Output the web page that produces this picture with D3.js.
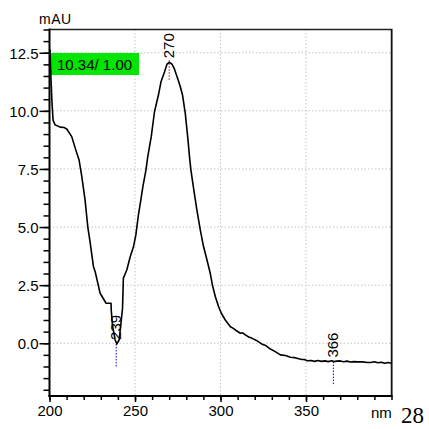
<!DOCTYPE html>
<html><head><meta charset="utf-8">
<script src="https://cdn.jsdelivr.net/npm/d3@7/dist/d3.min.js"></script>
<style>body{margin:0;background:#fff}svg{display:block}text{font-family:Arial,"Liberation Sans",sans-serif}text.serif{font-family:"Liberation Serif","Times New Roman",serif}</style>
</head><body><svg id="c" width="429" height="429"></svg>
<script>
// wavelength (nm)
const wavelengths = [200,200.3,200.9,201.5,202.1,203.2,206.2,208.5,210.1,213.0,215.4,217.3,218.9,220.8,222.4,223.7,225.7,226.7,229.6,233.1,236.0,236.1,236.8,238.4,239.4,240.7,241.7,242.7,243.2,245.2,247.2,249.1,250.5,252.0,253.4,254.6,256.4,257.4,259.5,261.4,263.7,265.2,267.3,268.7,270.2,271.6,272.9,274.9,276.5,277.8,279.4,281.0,281.9,282.7,284.7,286.2,288.2,290.1,292.1,294.0,295.4,297.0,298.9,300.5,302.8,305.8,307.5,308.7,311.6,313.0,314.5,316.5,318.5,321.0,324.3,326.5,329.2,332.0,335.0,338.0,340.9,343.5,345.8,347.5,349.0,350.7,353.0,355.0,357.0,359.0,361.0,363.0,365.0,366.3,368.0,370.0,372.0,374.0,376.0,378.0,380.0,383.0,386.0,387.8,390.0,392.0,394.0,396.0,398.0,400.0];
// absorbance (mAU)
const absorbance = [12.65,12.6,11.3,10.3,9.6,9.4,9.3,9.28,9.22,8.89,8.31,7.88,7.17,6.16,5.0,4.37,3.3,3.08,2.15,1.72,1.72,1.43,0.79,0.14,-0.03,0.14,0.79,1.5,2.8,3.15,3.72,4.15,4.66,5.52,6.16,6.74,7.45,8.0,8.89,9.96,10.68,11.25,11.68,12.01,12.09,12.01,11.83,11.4,11.04,10.68,9.89,8.74,8.0,7.45,6.45,5.73,4.87,4.15,3.58,3.01,2.46,2.0,1.57,1.29,1.0,0.71,0.64,0.57,0.43,0.45,0.36,0.27,0.21,0.12,-0.04,-0.1,-0.25,-0.36,-0.5,-0.53,-0.6,-0.62,-0.67,-0.70,-0.70,-0.75,-0.74,-0.78,-0.74,-0.78,-0.76,-0.79,-0.75,-0.79,-0.77,-0.76,-0.80,-0.77,-0.81,-0.79,-0.80,-0.80,-0.83,-0.83,-0.80,-0.84,-0.82,-0.86,-0.83,-0.86];
const xMajor = [200,250,300,350];
const yMajor = [0,2.5,5,7.5,10,12.5];
const peaks = [{nm:270,v:12.09,color:"#e00000",len:[-2,18],label:"270"},{nm:239,v:-0.03,color:"#0000e0",len:[0,24],label:"239"},{nm:366,v:-0.79,color:"#0000e0",len:[0,24],label:"366"}];
const boxLabel = "10.34/ 1.00";

const svg = d3.select("#c");
const L=49.5,R=391.5,T=29.5,B=396;
const x = d3.scaleLinear().domain([200,400]).range([L,R]);
const y = d3.scaleLinear().domain([-2.27,13.5]).range([B,T]);

// grid
const g = svg.append("g").attr("stroke","#c4c4c4").attr("stroke-width",1).attr("stroke-dasharray","1.5,2");
xMajor.filter(d=>d>200).forEach(d=>g.append("line").attr("x1",x(d)).attr("x2",x(d)).attr("y1",T).attr("y2",B));
yMajor.forEach(d=>g.append("line").attr("x1",L).attr("x2",R).attr("y1",y(d)).attr("y2",y(d)));

// frame top/right
svg.append("line").attr("x1",L).attr("x2",R+1).attr("y1",T).attr("y2",T).attr("stroke","#222").attr("stroke-width",1.5);
svg.append("line").attr("x1",R+1).attr("x2",R+1).attr("y1",T).attr("y2",B).attr("stroke","#999").attr("stroke-width",1);
svg.append("line").attr("x1",R).attr("x2",R).attr("y1",T).attr("y2",B).attr("stroke","#111").attr("stroke-width",1.5);

// axes
const yMinor = d3.range(-2,13.51,0.5);
const xMinor = d3.range(200,400.1,10);
svg.append("g").attr("transform",`translate(${L},0)`)
  .call(d3.axisLeft(y).tickValues(yMinor).tickSize(6).tickFormat("").tickSizeOuter(0))
  .call(a=>a.select(".domain").remove()).selectAll("line").attr("stroke","#000").attr("stroke-width",1.5);
svg.append("g").attr("transform",`translate(${L},0)`)
  .call(d3.axisLeft(y).tickValues(yMajor).tickSize(10).tickFormat(d3.format(".1f")).tickSizeOuter(0))
  .call(a=>a.select(".domain").remove())
  .call(a=>a.selectAll("line").attr("stroke","#000").attr("stroke-width",1.5))
  .call(a=>a.selectAll("text").attr("font-size",15).attr("fill","#000").attr("x",-11).attr("dy","0.36em"));
svg.append("g").attr("transform",`translate(0,${B})`)
  .call(d3.axisBottom(x).tickValues(xMinor).tickSize(4).tickFormat("").tickSizeOuter(0))
  .call(a=>a.select(".domain").remove()).selectAll("line").attr("stroke","#000").attr("stroke-width",1.5);
svg.append("g").attr("transform",`translate(0,${B})`)
  .call(d3.axisBottom(x).tickValues(xMajor).tickSize(6).tickFormat(d3.format("d")).tickSizeOuter(0))
  .call(a=>a.select(".domain").remove())
  .call(a=>a.selectAll("line").attr("stroke","#000").attr("stroke-width",1.5))
  .call(a=>a.selectAll("text").attr("font-size",15).attr("fill","#000").attr("y",9));
svg.selectAll(".tick text").style("font-family","Arial, 'Liberation Sans', sans-serif");
svg.append("line").attr("x1",L).attr("x2",L).attr("y1",T-1).attr("y2",B+1).attr("stroke","#000").attr("stroke-width",2);
svg.append("line").attr("x1",L-1).attr("x2",R+1).attr("y1",B).attr("y2",B).attr("stroke","#000").attr("stroke-width",2);

// texts
svg.append("text").attr("x",39).attr("y",24).attr("font-size",14).attr("letter-spacing",0.5).text("mAU");
svg.append("text").attr("x",371).attr("y",418).attr("font-size",15).text("nm");
svg.append("text").attr("class","serif").attr("x",401).attr("y",423).attr("font-size",23).text("28");

// green box
svg.append("rect").attr("x",51).attr("y",53).attr("width",88).attr("height",22).attr("fill","#00e600");
svg.append("text").attr("x",57).attr("y",70).attr("font-size",15).text(boxLabel);

// peak markers
peaks.forEach(p=>{
  svg.append("line").attr("x1",x(p.nm)).attr("x2",x(p.nm)).attr("y1",y(p.v)+p.len[0]).attr("y2",y(p.v)+p.len[1])
    .attr("stroke",p.color).attr("stroke-width",1).attr("stroke-dasharray","1.5,1.5");
});

// curve
const pts = wavelengths.map((w,i)=>[w,absorbance[i]]);
svg.append("path").datum(pts).attr("fill","none").attr("stroke","#000").attr("stroke-width",1.6)
  .attr("stroke-linejoin","round")
  .attr("d",d3.line().x(d=>x(d[0])).y(d=>y(d[1])));

// peak labels (rotated)
peaks.forEach(p=>{
  svg.append("text").attr("font-size",15)
    .attr("transform",`translate(${x(p.nm)+5},${y(p.v)-4}) rotate(-90)`).text(p.label);
});
</script></body></html>
